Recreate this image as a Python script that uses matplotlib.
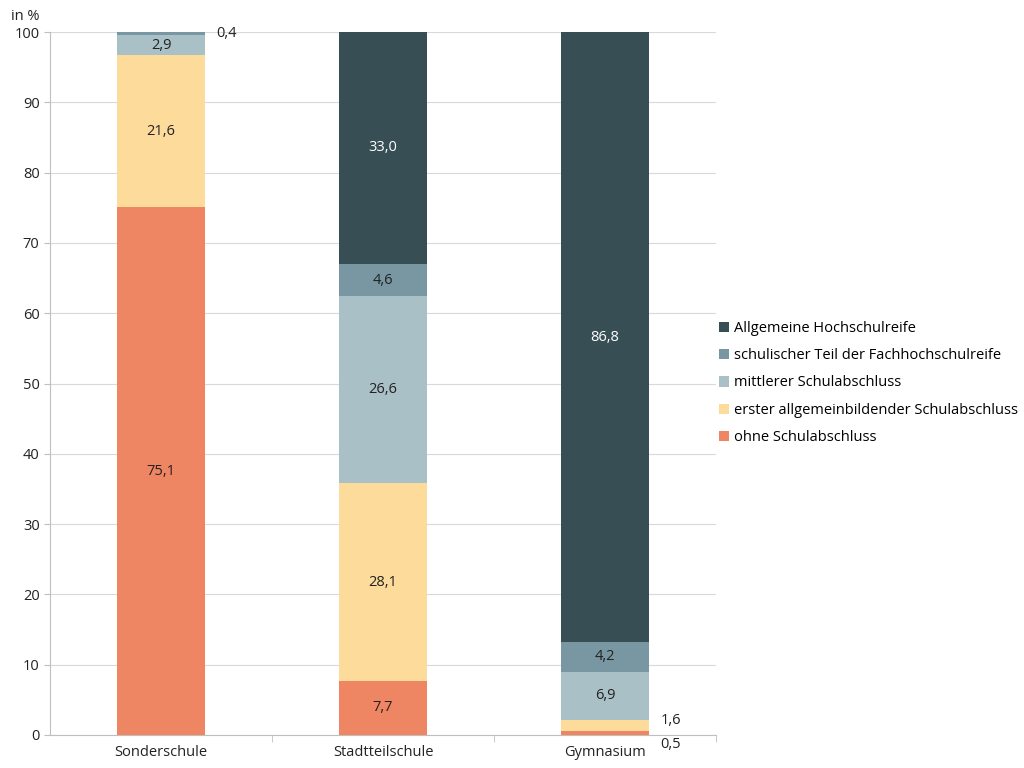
import numpy as np
import matplotlib.pyplot as plt

plt.rcParams['font.family'] = ['Open Sans', 'DejaVu Sans']

# Daten
schulformen = ['Sonderschule', 'Stadtteilschule', 'Gymnasium']
abschluesse = ['ohne Schulabschluss',
               'erster allgemeinbildender Schulabschluss',
               'mittlerer Schulabschluss',
               'schulischer Teil der Fachhochschulreife',
               'Allgemeine Hochschulreife']
ohne = [75.1, 7.7, 0.5]
erster = [21.6, 28.1, 1.6]
mittlerer = [2.9, 26.6, 6.9]
fhr = [0.4, 4.6, 4.2]
abitur = [0.0, 33.0, 86.8]
werte = [ohne, erster, mittlerer, fhr, abitur]

farben = ['#EE8563', '#FDDC9B', '#A9C0C7', '#7897A2', '#384E55']
textfarben = ['#222222', '#222222', '#222222', '#222222', 'white']
fs = 10.5

fig = plt.figure(figsize=(10.24, 7.68), dpi=100)
ax = fig.add_axes([50 / 1024, 33 / 768, 666 / 1024, 703 / 768])

x = np.arange(len(schulformen))
breite = 0.4
unten = np.zeros(len(schulformen))
handles = []
for i, (name, w) in enumerate(zip(abschluesse, werte)):
    w = np.array(w)
    b = ax.bar(x, w, breite, bottom=unten, color=farben[i], label=name, zorder=3)
    handles.append(b)
    for j in range(len(x)):
        if w[j] <= 0:
            continue
        label = ('%.1f' % w[j]).replace('.', ',')
        mitte = unten[j] + w[j] / 2
        if w[j] >= 2:
            ax.text(x[j], mitte, label, ha='center', va='center',
                    color=textfarben[i], fontsize=fs, zorder=4)
        else:
            # kleine Werte neben dem Balken
            if j == 0:
                dy = 0
            elif w[j] < 1:
                dy = -8
            else:
                dy = 4
            ax.annotate(label, (x[j] + breite / 2, mitte), xytext=(8, dy),
                        textcoords='offset points', ha='left', va='center',
                        color='#222222', fontsize=fs, annotation_clip=False)
    unten = unten + w

ax.set_xlim(-0.5, 2.5)
ax.set_ylim(0, 100)
ax.set_yticks(np.arange(0, 101, 10))
ax.yaxis.grid(True, color='#D9D9D9', linewidth=0.8, zorder=0)
ax.tick_params(axis='y', length=4, color='#BFBFBF', labelsize=fs, labelcolor='#222222')

ax.set_xticks(x)
ax.set_xticklabels(schulformen, fontsize=fs, color='#222222')
ax.tick_params(axis='x', length=0, pad=7)
ax.set_xticks([0.5, 1.5, 2.5], minor=True)
ax.tick_params(axis='x', which='minor', length=5, color='#BFBFBF')

for s in ['top', 'right']:
    ax.spines[s].set_visible(False)
for s in ['left', 'bottom']:
    ax.spines[s].set_color('#BFBFBF')

fig.text(11 / 1024, 1 - 16 / 768, 'in %', fontsize=fs, color='#222222', va='center')

fig.legend(handles[::-1], abschluesse[::-1], loc='center left',
           bbox_to_anchor=(706 / 1024, 1 - 383 / 768), frameon=False,
           fontsize=fs, handlelength=0.7, handleheight=0.7, handletextpad=0.3,
           labelspacing=0.85)

fig.savefig('out.png', dpi=100)
